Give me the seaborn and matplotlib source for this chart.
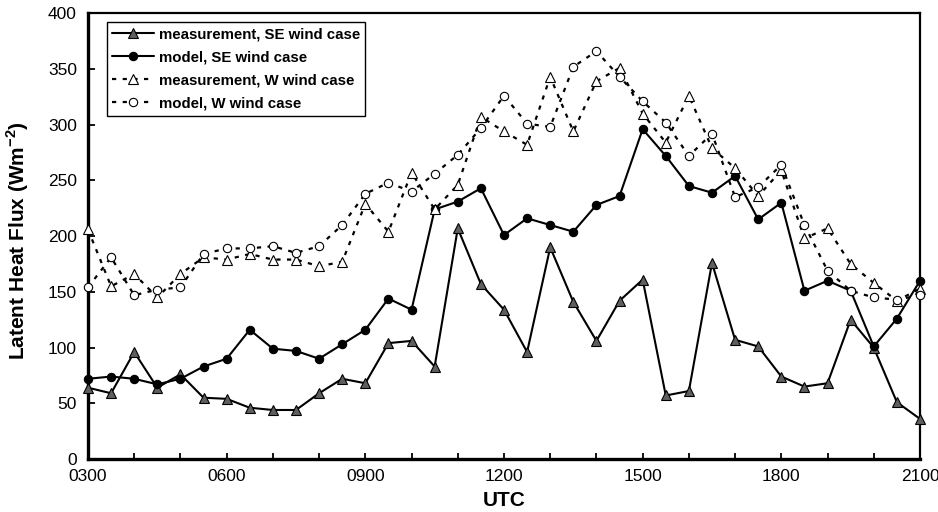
import numpy as np
import pandas as pd
import matplotlib
matplotlib.use("Agg")
import matplotlib.pyplot as plt
from matplotlib.ticker import MultipleLocator
import seaborn as sns

# half-hourly observation times (hours UTC), 0300 .. 2100
hours = np.arange(3.0, 21.01, 0.5)
tick_hours = [3, 6, 9, 12, 15, 18, 21]
tick_labels = ["0300", "0600", "0900", "1200", "1500", "1800", "2100"]

# latent heat flux, W m-2
meas_se = [64, 59, 96, 64, 76, 55, 54, 46, 44, 44, 59, 72, 68, 104, 106, 83, 207, 157, 134,
           96, 190, 141, 106, 142, 161, 57, 61, 176, 107, 101, 74, 65, 68, 125, 100, 51, 36]
model_se = [72, 74, 72, 67, 72, 83, 90, 116, 99, 97, 90, 103, 116, 144, 134, 224, 231, 243, 201,
            216, 210, 204, 228, 236, 296, 272, 245, 239, 254, 215, 230, 151, 160, 151, 101, 126, 160]
meas_w = [206, 155, 166, 145, 166, 181, 179, 184, 179, 179, 173, 177, 229, 204, 257, 224, 246, 307, 294,
          282, 343, 294, 339, 351, 310, 284, 326, 279, 261, 236, 259, 198, 207, 175, 158, 142, 153]
model_w = [154, 181, 147, 152, 154, 184, 189, 189, 191, 185, 191, 210, 238, 248, 240, 256, 273, 297, 326,
           301, 298, 352, 366, 343, 321, 302, 272, 292, 235, 244, 264, 210, 169, 151, 145, 143, 147]

labels = ["measurement, SE wind case", "model, SE wind case",
          "measurement, W wind case", "model, W wind case"]

df = pd.DataFrame({"utc": hours, "meas_se": meas_se, "model_se": model_se,
                   "meas_w": meas_w, "model_w": model_w})

sns.set_theme(style="ticks", rc={"axes.edgecolor": "black", "xtick.color": "black",
                                 "ytick.color": "black", "text.color": "black",
                                 "axes.labelcolor": "black"})
plt.rcParams["font.family"] = ["Liberation Sans", "DejaVu Sans"]
plt.rcParams["mathtext.fontset"] = "custom"
plt.rcParams["mathtext.rm"] = "Liberation Sans"
plt.rcParams["mathtext.bf"] = "Liberation Sans:bold"

fig = plt.figure(figsize=(9.38, 5.12), dpi=100)
ax = fig.add_axes([0.0938, 0.1035, 0.887, 0.8705])

dash = (0, (1.9, 2.9))
common = dict(ax=ax, color="black", markeredgecolor="black", markeredgewidth=0.8,
              clip_on=False, zorder=3)

sns.lineplot(data=df, x="utc", y="meas_se", marker="^", markersize=7, linewidth=1.5,
             markerfacecolor="#5f5f5f", label=labels[0], **common)
sns.lineplot(data=df, x="utc", y="model_se", marker="o", markersize=6, linewidth=1.5,
             markerfacecolor="black", label=labels[1], **common)
sns.lineplot(data=df, x="utc", y="meas_w", marker="^", markersize=7, linewidth=1.6,
             linestyle=dash, markerfacecolor="white", label=labels[2], **common)
sns.lineplot(data=df, x="utc", y="model_w", marker="o", markersize=6, linewidth=1.6,
             linestyle=dash, markerfacecolor="white", label=labels[3], **common)

ax.set_xlim(3, 21)
ax.set_ylim(0, 400)
ax.set_xticks(tick_hours, tick_labels)
ax.xaxis.set_minor_locator(MultipleLocator(1))
ax.set_yticks(np.arange(0, 401, 50))

ax.tick_params(axis="both", which="both", direction="in", width=1.3, labelsize=12.5)
ax.tick_params(axis="x", which="both", length=4.5, pad=7)
ax.tick_params(axis="y", length=5, pad=8)

for side in ["left", "bottom"]:
    ax.spines[side].set_linewidth(2.4)
for side in ["top", "right"]:
    ax.spines[side].set_linewidth(1.6)

ax.set_xlabel("UTC", fontsize=15, fontweight="bold")
ax.set_ylabel(r"Latent Heat Flux (Wm$^{\mathbf{-2}}$)", fontsize=15, fontweight="bold")
ax.xaxis.set_label_coords(0.5, -0.072)
ax.yaxis.set_label_coords(-0.068, 0.49)

leg = ax.legend(loc="upper left", bbox_to_anchor=(0.023, 0.98), borderaxespad=0,
                frameon=True, fancybox=False, framealpha=1, edgecolor="black",
                prop={"weight": "bold", "size": 10.8}, handlelength=2.8,
                handletextpad=0.3, labelspacing=0.6, borderpad=0.35)
leg.get_frame().set_linewidth(1.0)

fig.savefig("out.png", dpi=100)
